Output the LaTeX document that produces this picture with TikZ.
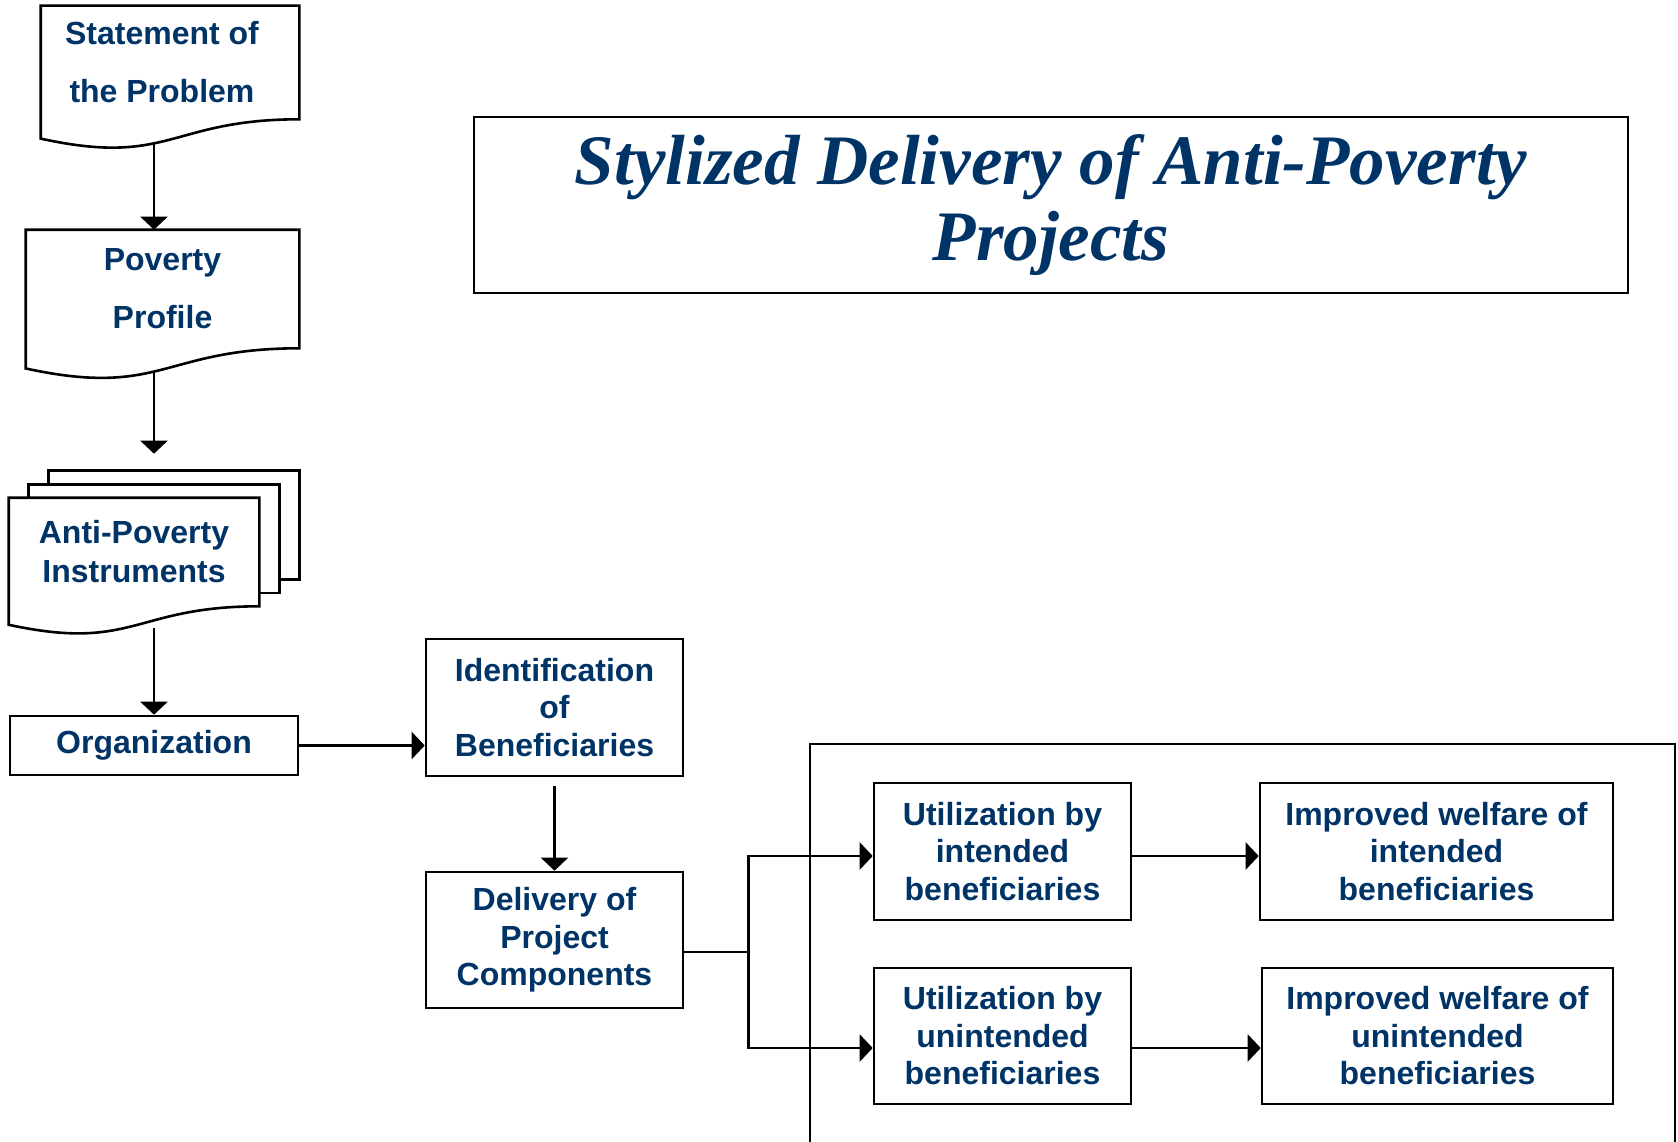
\documentclass[tikz,border=0pt]{standalone}
\usepackage{fontspec}
\setmainfont{Liberation Sans}
\newfontfamily\titlefont{Liberation Serif}
\usetikzlibrary{arrows.meta,calc}
\definecolor{navy}{RGB}{0,51,102}
\pgfdeclarelayer{bg}
\pgfsetlayers{bg,main}
\tikzset{>/.tip={Triangle[length=13pt,width=27pt]}}
\tikzset{
  box/.style={draw, line width=2.6pt, fill=white, align=center, text=navy, inner sep=0pt,
    font=\bfseries\fontsize{32}{37.5}\selectfont},
  docbox/.style={box, draw=none, fill=none, font=\bfseries\fontsize{32}{58}\selectfont},
  page/.style={draw, line width=2.6pt, fill=white},
  link/.style={line width=2.4pt},
}
\newcommand{\docwave}[1]{%
  \begin{pgfonlayer}{bg}
  \draw[page] (#1.north west) -- (#1.north east) -- (#1.south east)
    .. controls (#1.south) and ($(#1.south)!-0.42!(#1.north)$)
    .. ($(#1.south west)!-0.17!(#1.north west)$) -- cycle;
  \end{pgfonlayer}}

\begin{document}
\begin{tikzpicture}[x=1pt, y=-1pt]
\useasboundingbox (0,0) rectangle (1678,1142);

\node[draw, line width=2.6pt, minimum width=1154pt, minimum height=176pt, align=center, text=navy,
  font=\titlefont\bfseries\itshape\fontsize{71}{76}\selectfont] (title) at (1051,205)
  {Stylized Delivery of Anti-Poverty\\Projects};

\node[docbox, minimum width=256pt, minimum height=111pt] (stmt) at (170,62.5) {Statement of\hspace*{16pt}\\the Problem\hspace*{16pt}};
\node[docbox, minimum width=271pt, minimum height=116pt] (pov) at (162.5,289) {Poverty\\Profile};
\node[docbox, minimum width=248pt, minimum height=106pt, font=\bfseries\fontsize{32}{39}\selectfont] (anti) at (134,552) {Anti-Poverty\\Instruments};
\node[box, minimum width=288pt, minimum height=59pt] (org) at (154,745.5) {Organization};
\node[box, minimum width=257pt, minimum height=137pt] (ident) at (554.5,707.5) {Identification\\of\\Beneficiaries};
\node[box, minimum width=257pt, minimum height=136pt] (deliv) at (554.5,940) {Delivery of\\Project\\Components};
\node[box, minimum width=257pt, minimum height=137pt] (util1) at (1002.5,851.5) {Utilization by\\intended\\beneficiaries};
\node[box, minimum width=257pt, minimum height=136pt] (util2) at (1002.5,1036) {Utilization by\\unintended\\beneficiaries};
\node[box, minimum width=353pt, minimum height=137pt] (imp1) at (1436.5,851.5) {Improved welfare of\\intended\\beneficiaries};
\node[box, minimum width=351pt, minimum height=136pt] (imp2) at (1437.5,1036) {Improved welfare of\\unintended\\beneficiaries};

\begin{pgfonlayer}{bg}
\draw[page] ($(anti.north west)+(40,-27)$) rectangle ($(anti.south east)+(40,-27)$);
\draw[page] ($(anti.north west)+(20,-13.5)$) rectangle ($(anti.south east)+(20,-13.5)$);
\end{pgfonlayer}
\docwave{stmt}
\docwave{pov}
\docwave{anti}

\draw[line width=2.6pt] (810,1142) |- (1675,744) -- (1675,1142);

\coordinate (split) at ($(deliv.east)+(64,12)$);

\path[->,link] ($(stmt.south -| org.north)+(0,24)$) edge (pov.north -| org.north);
\path[->,link] ($(pov.south -| org.north)+(0,24)$) edge ($(anti.north -| org.north)+(0,-44)$);
\path[->,link] ($(anti.south -| org.north)+(0,22)$) edge (org.north);
\path[->,link] (org.east) edge (org.east -| ident.west);
\path[->,link] ([yshift=-9pt]ident.south) edge (deliv.north);
\draw[link] ([yshift=-12pt]deliv.east) -- (split);
\draw[->,link] (split) |- ([yshift=-4.5pt]util1.west);
\draw[->,link] (split) |- ([yshift=-12pt]util2.west);
\path[->,link] ([yshift=-4.5pt]util1.east) edge ([yshift=-4.5pt]imp1.west);
\path[->,link] ([yshift=-12pt]util2.east) edge ([yshift=-12pt]imp2.west);
\end{tikzpicture}
\end{document}
